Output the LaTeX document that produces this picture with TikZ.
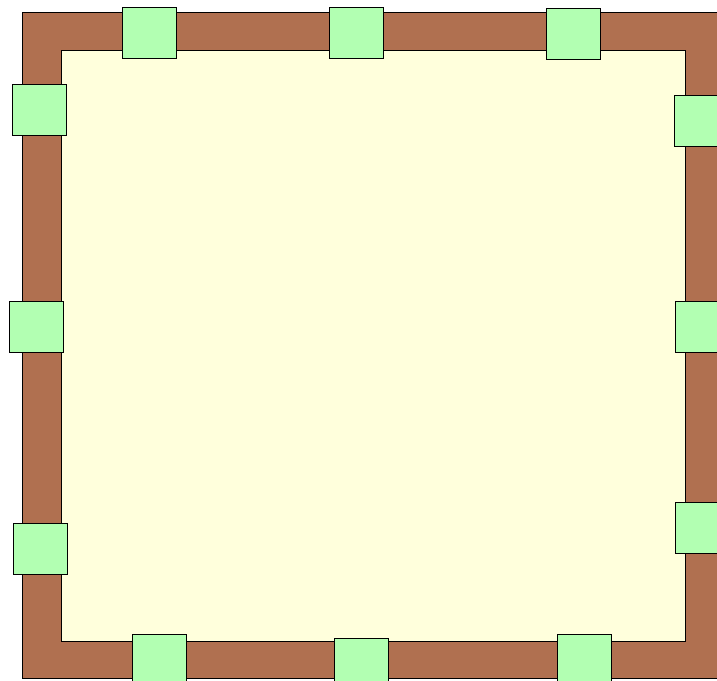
\documentclass[tikz,border=0pt]{standalone}
\usepackage{tikz}
\definecolor{frame}{RGB}{176,112,80}
\definecolor{floor}{RGB}{255,255,220}
\definecolor{pad}{RGB}{178,255,178}
\tikzset{
  wall/.style={draw=black, fill=frame, thin},
  inner/.style={draw=black, fill=floor, thin},
  padbox/.style={draw=black, fill=pad, thin, minimum width=1.62cm, minimum height=1.53cm, inner sep=0pt},
}

\begin{document}
\begin{tikzpicture}[x=0.03cm,y=-0.03cm]
  \clip (0,0) rectangle (717,681);
  \draw[wall] (22,12) rectangle (724,678);
  \draw[inner] (61,50) rectangle (685,641);
  % pads along the frame
  \foreach \n/\px/\py in {t1/149/32.5, t2/356/32.5, t3/573/33.5,
                          l1/39/109.5, l2/36.5/327, l3/40/548.5,
                          r1/701/120.5, r2/702/326.5, r3/702/527.5,
                          b1/159/659.5, b2/361.5/663.5, b3/584.5/659.5}
    \node[padbox] (\n) at (\px,\py) {};
\end{tikzpicture}
\end{document}
